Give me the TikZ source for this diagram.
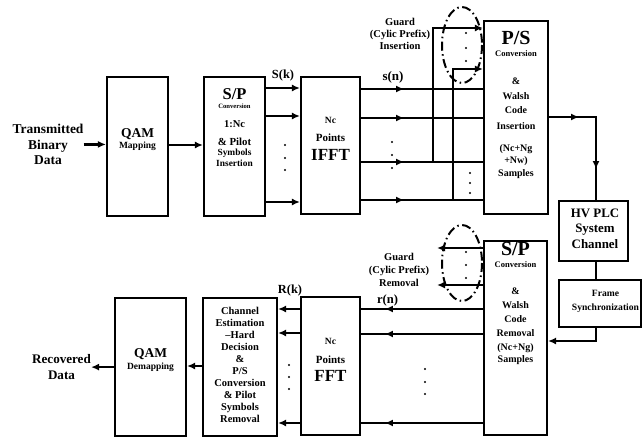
\documentclass[tikz,border=0pt]{standalone}
\usepackage{fontspec}
\setmainfont{Liberation Serif}
\usetikzlibrary{arrows.meta,decorations.markings}
\newcommand{\sz}[1]{\fontsize{#1}{#1}\selectfont}
\tikzset{
 blk/.style={draw,line width=2.1pt,inner sep=0pt},
 txt/.style={align=center,inner sep=0pt,font=\bfseries},
 fs/.style 2 args={font=\fontsize{#1}{#2}\selectfont\bfseries},
 wire/.style={line width=2.1pt},
 arr/.style={line width=2.1pt,-{Latex[length=8pt,width=7pt]}},
 midarr/.style={wire,postaction={decorate},
   decoration={markings,mark=at position #1 with {\arrow{Latex[length=8pt,width=7pt]}}}},
 guardring/.style={line width=2pt,dash pattern=on 9pt off 3.5pt on 1.5pt off 3.5pt}
}
\begin{document}
\begin{tikzpicture}[x=1pt,y=-1pt]
 \useasboundingbox (0,0) rectangle (642,439);
 % transmitter
 \node[txt,fs={13.5}{15.5},anchor=north] (src) at (48,124) {Transmitted\\Binary\\Data};
 \node[blk,minimum width=61pt,minimum height=139pt] (qam) at (137.5,146.5) {};
 \node[txt,fs={9.5}{11.6},anchor=north] (qamtxt) at (137.5,128) {{\sz{13.5}QAM}\\Mapping};
 \node[blk,minimum width=61pt,minimum height=139pt] (sp) at (234.5,146.5) {};
 \node[txt,fs={9.4}{11},anchor=north] (sptxt) at (234.5,88) {{\sz{16.5}S/P}\\[-1.3pt]{\sz{6.6}Conversion}\\[7.3pt]{\sz{10.5}1:Nc}\\[7.1pt]{\sz{10.8}\& Pilot}\\[-0.5pt]Symbols\\Insertion};
 \node[blk,minimum width=59pt,minimum height=137pt] (ifft) at (330.5,145.5) {};
 \node[txt,fs={9.5}{17.5},anchor=north] (iffttxt) at (330.5,117.5) {Nc\\{\sz{11}Points}\\[1.2pt]{\sz{17}IFFT}};
 \node[blk,minimum width=64pt,minimum height=193pt] (ps) at (516,117.5) {};
 \node[txt,fs={10}{14.5},anchor=north] (pstxt) at (516,30.8) {{\sz{20}P/S}\\[-2.3pt]{\sz{8.5}Conversion}\\[14pt]\&\\Walsh\\Code\\[1pt]Insertion\\[7.5pt](Nc+Ng\\[-2pt]+Nw)\\[-2pt]Samples};
 \node[txt,fs={10.5}{12},anchor=north] (guardin) at (400,18.3) {Guard\\(Cylic Prefix)\\Insertion};
 \node[txt,fs={12.4}{12.4}] (sk) at (283,76) {S(k)};
 \node[txt,fs={13}{13}] (sn) at (393,77) {s(n)};
 % channel
 \node[blk,minimum width=69pt,minimum height=60pt] (hv) at (593.5,231) {};
 \node[txt,fs={12.9}{15.5},anchor=north] (hvtxt) at (595,208.4) {HV PLC\\System\\Channel};
 \node[blk,minimum width=82pt,minimum height=47pt] (fsync) at (600,303.5) {};
 \node[txt,fs={9.6}{14},anchor=north] (fstxt) at (605.5,289.7) {Frame\\Synchronization};
 % receiver
 \node[blk,minimum width=63pt,minimum height=194pt] (sp2) at (515.5,338) {};
 \node[txt,fs={10}{13.8},anchor=north] (sp2txt) at (515.5,241.8) {{\sz{20}S/P}\\[-1.6pt]{\sz{8.5}Conversion}\\[13.7pt]\&\\Walsh\\Code\\Removal\\(Nc+Ng)\\[-1.8pt]Samples};
 \node[txt,fs={10.5}{13},anchor=north] (guardout) at (399,253.3) {Guard\\(Cylic Prefix)\\Removal};
 \node[blk,minimum width=59pt,minimum height=138pt] (fft) at (330.5,366) {};
 \node[txt,fs={9.5}{18.5},anchor=north] (ffttxt) at (330.5,338.5) {Nc\\{\sz{11}Points}\\[-0.8pt]{\sz{17}FFT}};
 \node[blk,minimum width=74pt,minimum height=138pt] (chan) at (240,367) {};
 \node[txt,fs={10.5}{12},anchor=north] (chantxt) at (240,307.3) {Channel\\Estimation\\–Hard\\Decision\\\&\\P/S\\Conversion\\\& Pilot\\Symbols\\Removal};
 \node[blk,minimum width=71pt,minimum height=138pt] (qam2) at (150.5,367) {};
 \node[txt,fs={9.5}{12.6},anchor=north] (qam2txt) at (150.5,348.2) {{\sz{13.5}QAM}\\Demapping};
 \node[txt,fs={13.1}{16},anchor=north] (rcv) at (61.5,354.3) {Recovered\\Data};
 \node[txt,fs={12.6}{12.6}] (rn) at (387.5,300) {r(n)};
 \node[txt,fs={12.4}{12.4}] (rk) at (290,291) {R(k)};
 % branch and bend points
 \coordinate (br1) at (433,162);
 \coordinate (br2) at (453,200);
 \coordinate (tap) at (596,117);
 \coordinate (fb) at (596,341);
 \coordinate (gr1) at (437,248);
 \coordinate (gr2) at (437,285);
 % transmitter links
 \draw[arr] (src.east) -- (qam.west |- src.east);
 \draw[arr] (qam.east |- 0,145) -- (sp.west |- 0,145);
 \foreach \y in {88,116,202}
   \draw[arr] (sp.east |- 0,\y) -- (ifft.west |- 0,\y);
 \foreach \y in {89,118,162,200}
   \draw[midarr=43pt] (ifft.east |- 0,\y) -- (ps.west |- 0,\y);
 \draw[arr] (br1) |- (ps.west |- 0,28);
 \draw[arr] (br2) |- (ps.west |- 0,69);
 \draw[guardring] (462,45) ellipse (20 and 38);
 % channel links
 \draw[wire,postaction={decorate},decoration={markings,
   mark=at position 30pt with {\arrow{Latex[length=8pt,width=7pt]}},
   mark=at position 99pt with {\arrow{Latex[length=8pt,width=7pt]}}}]
   (ps.east |- tap) -- (tap) -- (tap |- hv.north);
 \draw[wire] (hv.south -| tap) -- (fsync.north -| tap);
 \draw[arr] (fsync.south -| fb) -- (fb) -- (sp2.east |- fb);
 % receiver links
 \draw[arr] (sp2.west |- gr1) -- (gr1);
 \draw[arr] (sp2.west |- gr2) -- (gr2);
 \draw[guardring] (462,263) ellipse (20 and 38);
 \foreach \y in {309,334,423}
   \draw[midarr=98pt] (sp2.west |- 0,\y) -- (fft.east |- 0,\y);
 \foreach \y in {309,333,423}
   \draw[arr] (fft.west |- 0,\y) -- (chan.east |- 0,\y);
 \draw[arr] (chan.west |- 0,366) -- (qam2.east |- 0,366);
 \draw[arr] (qam2.west |- rcv.east) -- (rcv.east);
 % dots
 \foreach \x/\y in {285/145,285/158,285/170,392/142,392/155,392/168,
   470/173,470/183,470/193,466/33,466/48,466/61,
   289/365,289/377,289/389,425/369,425/382,425/394,466/252,466/265,466/278}
   \fill (\x,\y) circle (1.1);
\end{tikzpicture}
\end{document}
